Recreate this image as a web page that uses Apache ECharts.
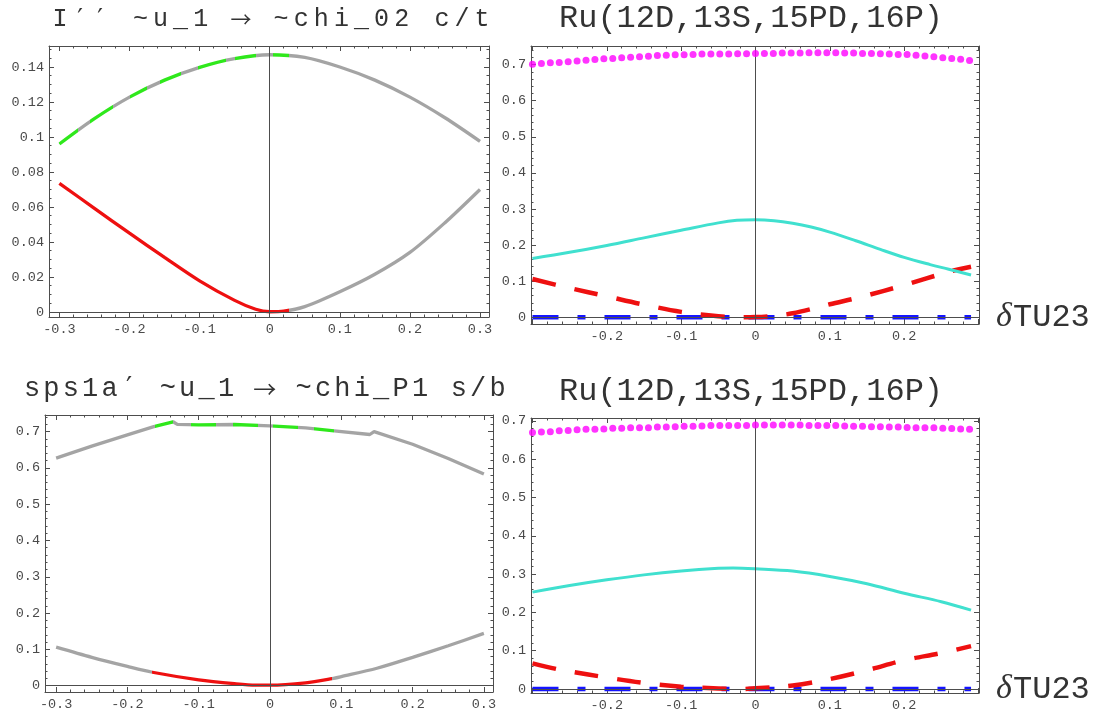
<!DOCTYPE html>
<html>
<head>
<meta charset="utf-8">
<script src="https://cdn.jsdelivr.net/npm/echarts@6/dist/echarts.min.js"></script>
<style>
  html, body { margin: 0; padding: 0; background: #fff; }
  #chart { width: 1096px; height: 713px; }
</style>
</head>
<body>
<div id="chart"></div>
<script>
// ---------- data ----------
// Panel A (top left): I'' ~u_1 -> ~chi_02 c/t
const xUpperA = [-0.3, -0.25, -0.2, -0.15, -0.1, -0.05, 0, 0.05, 0.1, 0.15, 0.2, 0.25, 0.3];
const yUpperA = [0.0960, 0.1105, 0.1228, 0.1325, 0.1398, 0.1448, 0.1470, 0.1455, 0.1400, 0.1325, 0.1228, 0.1110, 0.0975];
const greenSpansA = [[-0.301, -0.273], [-0.256, -0.223], [-0.199, -0.175], [-0.156, -0.126], [-0.102, -0.062], [-0.050, -0.019], [0.004, 0.028]];

const xLowerA = [-0.3, -0.25, -0.2, -0.15, -0.1, -0.05, -0.02, 0, 0.02, 0.05, 0.1, 0.15, 0.2, 0.25, 0.3];
const yLowerA = [0.0735, 0.0592, 0.0450, 0.0312, 0.0178, 0.0066, 0.0015, 0.0001, 0.0004, 0.0030, 0.0115, 0.0215, 0.0340, 0.0510, 0.0700];
const redSpanA = [-0.31, 0.027];

// Panel B (bottom left): sps1a' ~u_1 -> ~chi_P1 s/b
const xUpperB = [-0.3, -0.25, -0.2, -0.163, -0.136, -0.13, -0.1, -0.05, 0, 0.05, 0.09, 0.14, 0.146, 0.2, 0.25, 0.3];
const yUpperB = [0.627, 0.660, 0.691, 0.7135, 0.727, 0.720, 0.7185, 0.7195, 0.7155, 0.710, 0.702, 0.692, 0.700, 0.665, 0.626, 0.583];
const greenSpansB = [[-0.162, -0.136], [-0.111, -0.076], [-0.052, -0.017], [0.004, 0.039], [0.062, 0.090]];

const xLowerB = [-0.3, -0.25, -0.2, -0.165, -0.1, -0.05, -0.02, 0, 0.05, 0.087, 0.1, 0.15, 0.2, 0.25, 0.3];
const yLowerB = [0.106, 0.078, 0.053, 0.037, 0.016, 0.0055, 0.0015, 0.0015, 0.008, 0.0195, 0.025, 0.048, 0.078, 0.110, 0.144];
const redSpanB = [-0.165, 0.087];

// Ru(12D,13S,15PD,16P) panels: dotted, solid, dashed and dash-dot curves
const dotX = [-0.300, -0.288, -0.276, -0.264, -0.252, -0.240, -0.228, -0.216, -0.204, -0.192,
              -0.180, -0.168, -0.156, -0.144, -0.132, -0.120, -0.108, -0.096, -0.084, -0.072,
              -0.060, -0.048, -0.036, -0.024, -0.012, 0.000, 0.012, 0.024, 0.036, 0.048,
               0.060, 0.072, 0.084, 0.096, 0.108, 0.120, 0.132, 0.144, 0.156, 0.168,
               0.180, 0.192, 0.204, 0.216, 0.228, 0.240, 0.252, 0.264, 0.276, 0.288];
const magentaTop = [0.701, 0.703, 0.705, 0.706, 0.708, 0.710, 0.712, 0.714, 0.716, 0.717,
                    0.719, 0.720, 0.722, 0.723, 0.725, 0.726, 0.727, 0.727, 0.728, 0.729,
                    0.729, 0.729, 0.729, 0.730, 0.730, 0.731, 0.731, 0.731, 0.732, 0.732,
                    0.732, 0.733, 0.733, 0.733, 0.733, 0.732, 0.732, 0.731, 0.731, 0.730,
                    0.729, 0.728, 0.728, 0.726, 0.724, 0.722, 0.719, 0.717, 0.715, 0.711];
const magentaBottom = [0.670, 0.671, 0.672, 0.674, 0.675, 0.677, 0.678, 0.678, 0.679, 0.681,
                       0.681, 0.682, 0.682, 0.682, 0.684, 0.684, 0.685, 0.686, 0.686, 0.687,
                       0.688, 0.688, 0.688, 0.688, 0.688, 0.689, 0.689, 0.689, 0.689, 0.689,
                       0.689, 0.688, 0.688, 0.688, 0.688, 0.687, 0.686, 0.686, 0.685, 0.685,
                       0.684, 0.684, 0.683, 0.682, 0.682, 0.682, 0.681, 0.680, 0.679, 0.678];

const xCyanTop = [-0.3, -0.25, -0.2, -0.15, -0.1, -0.05, -0.025, 0, 0.025, 0.05, 0.075, 0.1, 0.135, 0.168, 0.2, 0.235, 0.26, 0.29];
const yCyanTop = [0.163, 0.180, 0.199, 0.220, 0.241, 0.2615, 0.2685, 0.270, 0.2675, 0.2605, 0.250, 0.236, 0.212, 0.188, 0.166, 0.146, 0.133, 0.117];
const xRedTop = [-0.3, -0.25, -0.2, -0.15, -0.1, -0.05, -0.02, 0, 0.025, 0.05, 0.085, 0.1, 0.143, 0.2, 0.26, 0.29];
const yRedTop = [0.106, 0.081, 0.058, 0.035, 0.015, 0.003, 0.000, 0.0005, 0.004, 0.011, 0.028, 0.036, 0.057, 0.089, 0.126, 0.140];

const xCyanBottom = [-0.3, -0.25, -0.2, -0.15, -0.1, -0.05, -0.03, 0, 0.05, 0.1, 0.15, 0.2, 0.25, 0.29];
const yCyanBottom = [0.253, 0.270, 0.285, 0.298, 0.308, 0.315, 0.316, 0.314, 0.308, 0.294, 0.275, 0.250, 0.228, 0.206];
const xRedBottom = [-0.3, -0.267, -0.25, -0.2, -0.15, -0.1, -0.05, -0.02, 0, 0.05, 0.1, 0.15, 0.2, 0.25, 0.29];
const yRedBottom = [0.067, 0.052, 0.046, 0.030, 0.016, 0.006, 0.0015, 0.000, 0.002, 0.009, 0.026, 0.049, 0.075, 0.094, 0.112];

const xBlue = [-0.3, 0.29];
const yBlue = [0, 0];

// tick labels
const xLabelsFull = [-0.3, -0.2, -0.1, 0, 0.1, 0.2, 0.3];
const xLabelsInner = [-0.2, -0.1, 0, 0.1, 0.2];
const yLabelsA = [0, 0.02, 0.04, 0.06, 0.08, 0.1, 0.12, 0.14];
const yLabelsRu = [0, 0.1, 0.2, 0.3, 0.4, 0.5, 0.6, 0.7];

// titles
const titleA = 'I′′ ~u_1 → ~chi_02 c/t';
const titleB = 'sps1a′ ~u_1 → ~chi_P1 s/b';
const titleRu = 'Ru(12D,13S,15PD,16P)';
const varSymbol = 'δ';
const varName = 'TU23';

// ---------- styling ----------
const MONO = '"Liberation Mono", "DejaVu Sans Mono", monospace';
const ARROW_FONT = '"Noto Sans CJK SC", "DejaVu Sans", sans-serif';
const PRIME_FONT = '"DejaVu Sans", sans-serif';
const FRAME = '#4d4d4d';
const LABEL = '#4a4a4a';
const TEXT = '#333';
const GRAY = '#a4a4a4';
const GREEN = '#2fe81c';
const RED = '#ee1010';
const MAGENTA = '#ff00ff';
const CYAN = '#40e0cf';
const BLUE = '#1414ff';

const zip = (xs, ys) => xs.map((x, i) => [x, ys[i]]);
const fmt = v => String(+(+v).toFixed(4));

function multiples(min, max, step) {
  const out = [];
  for (let k = Math.ceil(min / step - 1e-9); k * step <= max + 1e-9; k++) out.push(+(k * step).toFixed(6));
  return out;
}
function minorValues(r) {
  const majors = r.major.map(v => v.toFixed(6));
  return multiples(r.min, r.max, r.minor).filter(v => !majors.includes(v.toFixed(6)));
}

const grids = [];
const xAxes = [];
const yAxes = [];

function axis(list, g, pos, r, isMajor, withLabels) {
  list.push({
    type: 'value', gridIndex: g, position: pos, min: r.min, max: r.max,
    axisLine: { show: isMajor, onZero: false, lineStyle: { color: FRAME, width: 1 } },
    axisTick: { show: true, inside: true, length: isMajor ? 5 : 2.5,
                customValues: isMajor ? r.major : minorValues(r),
                lineStyle: { color: FRAME, width: 1 } },
    axisLabel: { show: withLabels, customValues: r.labels, margin: 5, color: LABEL,
                 fontFamily: MONO, fontSize: 13.5, formatter: fmt },
    splitLine: { show: false }, minorTick: { show: false }, splitArea: { show: false },
    silent: true
  });
  return list.length - 1;
}

// framed panel: ticks on all four sides, labels on left and bottom
function panel(box, xr, yr) {
  const g = grids.length;
  grids.push(Object.assign({ containLabel: false, outerBoundsMode: 'none' }, box));
  const xi = axis(xAxes, g, 'bottom', xr, true, true);
  axis(xAxes, g, 'bottom', xr, false, false);
  axis(xAxes, g, 'top', xr, true, false);
  axis(xAxes, g, 'top', xr, false, false);
  const yi = axis(yAxes, g, 'left', yr, true, true);
  axis(yAxes, g, 'left', yr, false, false);
  axis(yAxes, g, 'right', yr, true, false);
  axis(yAxes, g, 'right', yr, false, false);
  return { xi, yi };
}

const pA = panel({ left: 49, top: 46, width: 440, height: 271 },
  { min: -0.3148, max: 0.3128, major: xLabelsFull, labels: xLabelsFull, minor: 0.02 },
  { min: -0.0029, max: 0.152, major: yLabelsA, labels: yLabelsA, minor: 0.005 });
const pR1 = panel({ left: 531, top: 46, width: 448, height: 278 },
  { min: -0.302, max: 0.3007, major: xLabelsFull, labels: xLabelsInner, minor: 0.02 },
  { min: -0.0186, max: 0.7515, major: yLabelsRu, labels: yLabelsRu, minor: 0.02 });
const pB = panel({ left: 45, top: 415, width: 448, height: 277 },
  { min: -0.3156, max: 0.3128, major: xLabelsFull, labels: xLabelsFull, minor: 0.02 },
  { min: -0.0174, max: 0.7457, major: yLabelsRu, labels: yLabelsRu, minor: 0.02 });
const pR2 = panel({ left: 531, top: 418, width: 448, height: 275 },
  { min: -0.302, max: 0.3007, major: xLabelsFull, labels: xLabelsInner, minor: 0.02 },
  { min: -0.0104, max: 0.7076, major: yLabelsRu, labels: yLabelsRu, minor: 0.02 });

const series = [];
const visualMaps = [];

function on(p, s) {
  series.push(Object.assign({ xAxisIndex: p.xi, yAxisIndex: p.yi, animation: false, silent: true }, s));
  return series.length - 1;
}

// zero axes drawn inside every frame
[pA, pR1, pB, pR2].forEach(p => on(p, {
  type: 'line', data: [[0, 0]], symbol: 'none', lineStyle: { width: 0 }, z: 1,
  markLine: { silent: true, symbol: 'none', animation: false, label: { show: false },
              lineStyle: { color: FRAME, width: 1, type: 'solid' },
              data: [{ xAxis: 0 }, { yAxis: 0 }] }
}));

function bandedCurve(p, xs, ys, spans, color, smooth) {
  const idx = on(p, { type: 'line', data: zip(xs, ys), showSymbol: false, smooth,
                      lineStyle: { width: 3.3 }, z: 3 });
  visualMaps.push({ type: 'piecewise', show: false, seriesIndex: idx, dimension: 0,
                    pieces: spans.map(s => ({ gte: s[0], lte: s[1], color })),
                    outOfRange: { color: GRAY } });
}

bandedCurve(pA, xUpperA, yUpperA, greenSpansA, GREEN, 0.3);
bandedCurve(pA, xLowerA, yLowerA, [redSpanA], RED, 0.3);
bandedCurve(pB, xUpperB, yUpperB, greenSpansB, GREEN, false);
bandedCurve(pB, xLowerB, yLowerB, [redSpanB], RED, 0.3);

function ruPanel(p, mag, xc, yc, xr, yr) {
  on(p, { type: 'line', data: zip(xBlue, yBlue), showSymbol: false, z: 3,
          lineStyle: { color: BLUE, width: 4.5, type: [26, 19, 8, 19], cap: 'butt' } });
  on(p, { type: 'line', data: zip(xr, yr), showSymbol: false, smooth: 0.35, z: 4,
          lineStyle: { color: RED, width: 4.5, type: [24, 19], cap: 'butt' } });
  on(p, { type: 'line', data: zip(xc, yc), showSymbol: false, smooth: 0.35, z: 4,
          lineStyle: { color: CYAN, width: 3 } });
  on(p, { type: 'scatter', data: zip(dotX, mag), symbolSize: 7, z: 5,
          itemStyle: { color: MAGENTA } });
}
ruPanel(pR1, magentaTop, xCyanTop, yCyanTop, xRedTop, yRedTop);
ruPanel(pR2, magentaBottom, xCyanBottom, yCyanBottom, xRedBottom, yRedBottom);

// ---------- titles and variable name ----------
const graphics = [];
function textEl(text, x, y, font, align) {
  graphics.push({ type: 'text', x, y, silent: true,
    style: { text, fill: TEXT, font, align, verticalAlign: 'middle',
             textAlign: align, textVerticalAlign: 'middle' } });
}
// evenly pitched characters; arrows and primes come from fonts that have them
function spaced(text, firstCenter, pitch, y, size) {
  Array.from(text).forEach((ch, i) => {
    if (ch === ' ') return;
    let font = size + 'px ' + MONO;
    if (ch === '→') font = Math.round(size * 0.85) + 'px ' + ARROW_FONT;
    if (ch === '′') font = size + 'px ' + PRIME_FONT;
    textEl(ch, firstCenter + i * pitch, y, font, 'center');
  });
}

spaced(titleA, 60, 20.1, 19, 25);
textEl(titleRu, 751, 19, '32px ' + MONO, 'center');
spaced(titleB, 32, 19.4, 389, 27);
textEl(titleRu, 751, 392, '32px ' + MONO, 'center');

[317, 689].forEach(y => {
  textEl(varSymbol, 1004, y, 'italic 34px "Liberation Serif", "DejaVu Serif", serif', 'center');
  textEl(varName, 1013, y + 1, '32px ' + MONO, 'left');
});

const chart = echarts.init(document.getElementById('chart'), null, { renderer: 'canvas' });
chart.setOption({
  animation: false,
  backgroundColor: '#fff',
  grid: grids,
  xAxis: xAxes,
  yAxis: yAxes,
  visualMap: visualMaps,
  series,
  graphic: { elements: graphics }
});
</script>
</body>
</html>
